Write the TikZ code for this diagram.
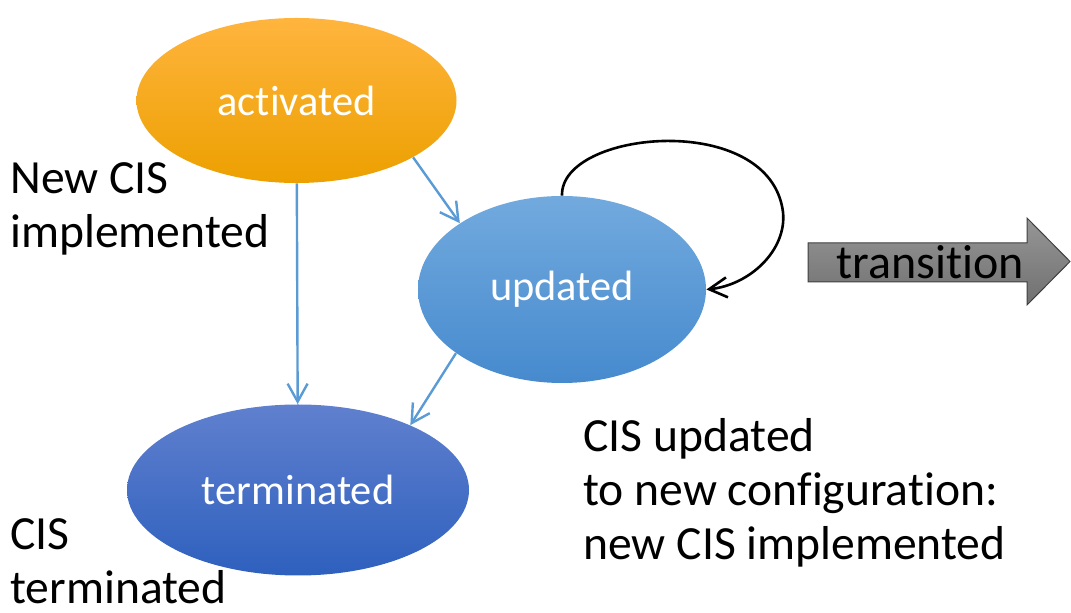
\documentclass[tikz,border=0pt]{standalone}
\usepackage{fontspec}
\setmainfont{Carlito}[Ligatures=NoCommon]
\usetikzlibrary{arrows.meta,shapes.geometric}

\definecolor{actTop}{RGB}{255,180,62}
\definecolor{actMid}{RGB}{252,174,8}
\definecolor{actBot}{RGB}{236,160,0}
\definecolor{updTop}{RGB}{114,170,222}
\definecolor{updBot}{RGB}{70,138,206}
\definecolor{termTop}{RGB}{96,128,206}
\definecolor{termBot}{RGB}{46,96,190}
\definecolor{flowblue}{RGB}{91,155,213}
\definecolor{grayTop}{RGB}{150,150,150}
\definecolor{grayBot}{RGB}{112,112,112}

\begin{document}
\begin{tikzpicture}[x=0.5pt,y=-0.5pt]
    % --- styles ---
    \tikzset{state/.style={ellipse,inner sep=0pt,text=white,font=\fontsize{21.2}{25}\selectfont},
      flow/.style={draw=flowblue,line width=1.2pt,-{Straight Barb[length=9pt,width=10pt]}},
      loopline/.style={draw=black,line width=1.3pt,-{Straight Barb[length=9pt,width=10pt]}},
      note/.style={anchor=base west,align=left,inner sep=0pt,font=\fontsize{23.8}{27}\selectfont}}

    \useasboundingbox (0,0) rectangle (1071,613);

    % states
    \node[state,minimum width=160pt,minimum height=82.5pt,
      top color=actTop,middle color=actMid,bottom color=actBot] (act) at (296.5,100.5) {activated};
    \node[state,minimum width=144pt,minimum height=93.5pt,
      top color=updTop,bottom color=updBot] (upd) at (562,289.5) {updated};
    \node[state,minimum width=171pt,minimum height=85.5pt,
      top color=termTop,bottom color=termBot] (term) at (298,490) {terminated};

    % transitions between states
    \draw[flow] (act) -- (term);
    \draw[flow] (act.-26) -- (upd.147);
    \draw[flow] (upd.211) -- (term.30);

    % self loop on updated
    \draw[loopline] (upd.north) .. controls (560,130) and (770,110) .. (783,212)
      .. controls (787,250) and (750,285) .. (upd.east);

    % big transition arrow
    \path[draw=black!75,line width=0.5pt,top color=grayTop,bottom color=grayBot]
      (808,243) -- (1027,243) -- (1027,218) -- (1070,261.5) -- (1027,305)
      -- (1027,282) -- (808,282) -- cycle;
    \node[inner sep=0pt,font=\fontsize{24}{27}\selectfont] (trans) at (930,262) {transition};

    % notes (anchored at the baseline of the last line)
    \node[note] (newcis) at (10,248) {New CIS\\implemented};
    \node[note] (cisupd) at (583,560) {CIS updated\\to new configuration:\\new CIS implemented};
    \node[note] (cisterm) at (10,604) {CIS\\terminated};
\end{tikzpicture}
\end{document}
